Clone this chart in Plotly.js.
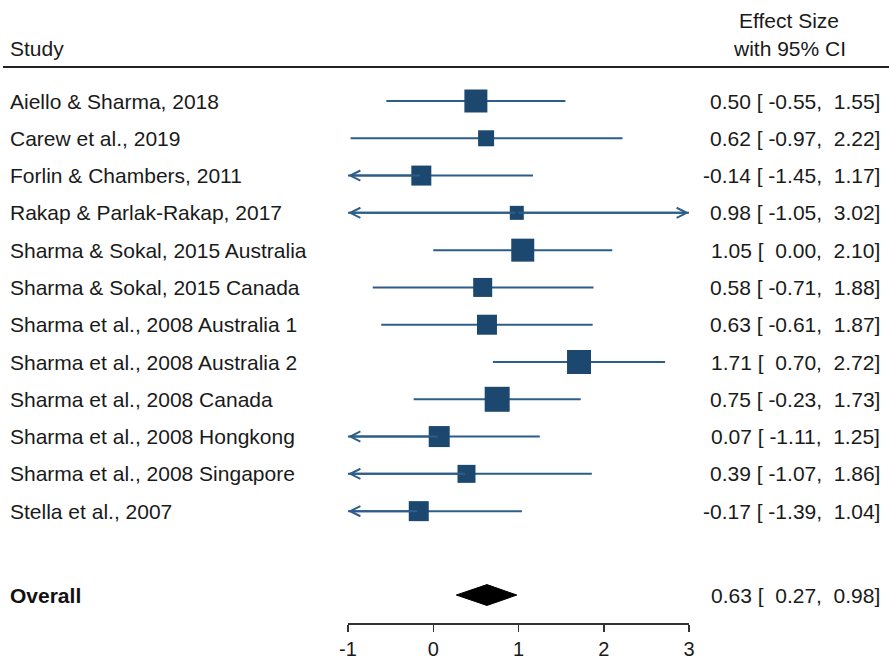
<!DOCTYPE html>
<html><head><meta charset="utf-8">
<script src="https://cdn.plot.ly/plotly-3.0.1.min.js"></script>
<style>html,body{margin:0;padding:0;background:#fff}#chart{width:889px;height:659px}</style>
</head><body><div id="chart"></div>
<script>
const studies = ["Aiello & Sharma, 2018","Carew et al., 2019","Forlin & Chambers, 2011","Rakap & Parlak-Rakap, 2017","Sharma & Sokal, 2015 Australia","Sharma & Sokal, 2015 Canada","Sharma et al., 2008 Australia 1","Sharma et al., 2008 Australia 2","Sharma et al., 2008 Canada","Sharma et al., 2008 Hongkong","Sharma et al., 2008 Singapore","Stella et al., 2007"];
const effect = [0.50,0.62,-0.14,0.98,1.05,0.58,0.63,1.71,0.75,0.07,0.39,-0.17];
const ciLow = [-0.55,-0.97,-1.45,-1.05,0.00,-0.71,-0.61,0.70,-0.23,-1.11,-1.07,-1.39];
const ciHigh = [1.55,2.22,1.17,3.02,2.10,1.88,1.87,2.72,1.73,1.25,1.86,1.04];
const weightSize = [23,16,20,14,23,19,20,24,25,21,18,20];
const overall = {label:"Overall", est:0.63, lo:0.27, hi:0.98};
const xTicks = [-1,0,1,2,3];

const XMIN = -1, XMAX = 3;
const W = 889, H = 659;
const rows = studies.map((s,i)=>i+1);
const overallRow = 14.25;
const lineColor = "#2d5d8a", boxColor = "#1c4870";
const font = "Liberation Sans, Arial, sans-serif";
const fs = 21;
const plotTop = 68, plotBottom = 623;
function py(pix){ return (plotBottom-pix)/(plotBottom-plotTop); }

function pad(v){ let s=v.toFixed(2); while(s.length<6) s="\u00a0"+s; return s; }
function ciText(e,l,h){ return e.toFixed(2)+"\u00a0["+pad(l)+","+pad(h)+"]"; }

const lx=[], ly=[];
rows.forEach((r,i)=>{ lx.push(Math.max(ciLow[i],XMIN), Math.min(ciHigh[i],XMAX), null); ly.push(r,r,null); });
const traces = [
  {type:"scatter",mode:"lines",x:lx,y:ly,line:{color:lineColor,width:2},hoverinfo:"skip",cliponaxis:false},
  {type:"scatter",mode:"markers",x:effect,y:rows,marker:{symbol:"square",size:weightSize,color:boxColor,opacity:1,line:{width:0}},hoverinfo:"x"},
  {type:"scatter",mode:"lines",fill:"toself",fillcolor:"#000",line:{color:"#000",width:1},
   x:[overall.lo,overall.est,overall.hi,overall.est,overall.lo],
   y:[overallRow,overallRow-0.28,overallRow,overallRow+0.28,overallRow],hoverinfo:"skip"}
];

const tf = {family:font,size:fs,color:"#1a1a1a"};
const ann = [];
rows.forEach((r,i)=>{
  ann.push({xref:"paper",yref:"y",x:8/W,y:r,xanchor:"left",yanchor:"middle",text:studies[i],showarrow:false,font:tf});
  ann.push({xref:"paper",yref:"y",x:882/W,y:r,xanchor:"right",yanchor:"middle",text:ciText(effect[i],ciLow[i],ciHigh[i]),showarrow:false,font:tf});
  if(ciLow[i]<XMIN) ann.push({xref:"x",yref:"y",axref:"x",ayref:"y",x:XMIN,y:r,ax:effect[i],ay:r,text:"",showarrow:true,arrowhead:5,arrowsize:1,arrowwidth:2,arrowcolor:lineColor,standoff:0});
  if(ciHigh[i]>XMAX) ann.push({xref:"x",yref:"y",axref:"x",ayref:"y",x:XMAX,y:r,ax:effect[i],ay:r,text:"",showarrow:true,arrowhead:5,arrowsize:1,arrowwidth:2,arrowcolor:lineColor,standoff:0});
});
ann.push({xref:"paper",yref:"y",x:8/W,y:overallRow,xanchor:"left",yanchor:"middle",text:"<b>"+overall.label+"</b>",showarrow:false,font:{family:font,size:fs,color:"#111"}});
ann.push({xref:"paper",yref:"y",x:882/W,y:overallRow,xanchor:"right",yanchor:"middle",text:ciText(overall.est,overall.lo,overall.hi),showarrow:false,font:tf});
ann.push({xref:"paper",yref:"paper",x:8/W,y:py(49),xanchor:"left",yanchor:"middle",text:"Study",showarrow:false,font:tf});
ann.push({xref:"paper",yref:"paper",x:789/W,y:py(21),xanchor:"center",yanchor:"middle",text:"Effect Size",showarrow:false,font:tf});
ann.push({xref:"paper",yref:"paper",x:789/W,y:py(49),xanchor:"center",yanchor:"middle",text:"with 95% CI",showarrow:false,font:tf});

const layout = {
  width:W,height:H,paper_bgcolor:"#fff",plot_bgcolor:"rgba(0,0,0,0)",showlegend:false,
  margin:{l:0,r:0,t:plotTop,b:H-plotBottom,pad:0},
  xaxis:{domain:[348/W,689/W],range:[XMIN,XMAX],tickvals:xTicks,ticktext:xTicks.map(String),showgrid:false,zeroline:false,
    showline:true,linecolor:"#333",linewidth:1.5,ticks:"outside",ticklen:7,tickwidth:1.5,tickcolor:"#333",
    tickfont:{family:font,size:20,color:"#1a1a1a"},fixedrange:true},
  yaxis:{range:[15,1-(101-plotTop)/37.28],visible:false,showgrid:false,zeroline:false,fixedrange:true},
  annotations:ann,
  shapes:[{type:"line",xref:"paper",yref:"paper",x0:3/W,x1:1,y0:py(67),y1:py(67),line:{color:"#222",width:2}}],
  font:{family:font}
};
Plotly.newPlot("chart",traces,layout,{displayModeBar:false,staticPlot:true});
</script></body></html>
